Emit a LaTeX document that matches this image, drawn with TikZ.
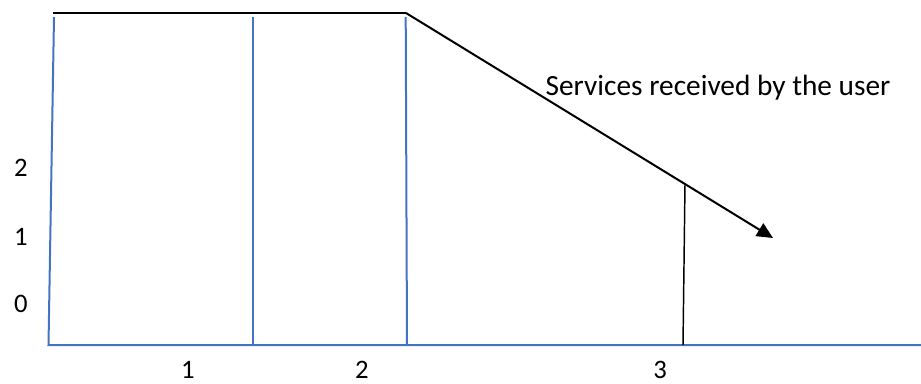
\documentclass[tikz,border=0pt]{standalone}
\usepackage{fontspec}
\setmainfont{Carlito}
\usetikzlibrary{arrows.meta}
\definecolor{axisblue}{HTML}{4472C4}
\begin{document}
\begin{tikzpicture}[x=0.75pt,y=-0.75pt,
  blueline/.style={draw=axisblue,line width=1.5pt},
  blackline/.style={draw=black,line width=1.5pt},
  thinblack/.style={draw=black,line width=1.1pt},
  lbl/.style={font=\fontsize{20pt}{24pt}\selectfont,inner sep=0pt},
  biglbl/.style={font=\fontsize{22pt}{26pt}\selectfont,inner sep=0pt}]
\useasboundingbox (0,0) rectangle (921,383);
% coordinates
\coordinate (tl) at (53,13);
\coordinate (tm) at (406,13);
\coordinate (tip) at (773,238);
\coordinate (lt) at (54,17);
\coordinate (lb) at (48.5,345);
\coordinate (re) at (921,345);
\coordinate (at) at (253,17);
\coordinate (ab) at (253,345);
\coordinate (bt) at (405.7,17);
\coordinate (bb) at (407,345);
\coordinate (ct) at (685,184);
\coordinate (cb) at (683,345);
% blue axes
\draw[blueline] (lt) -- (lb) -- (re);
\draw[blueline] (at) -- (ab);
\draw[blueline] (bt) -- (bb);
% black lines
\draw[blackline,line join=miter] (tl) -- (tm);
\draw[blackline,-{Triangle[length=12pt,width=11pt]}] (tm) -- (tip);
\draw[thinblack] (ct) -- (cb);
% labels
\node[lbl] (y2) at (21,168) {2};
\node[lbl] (y1) at (21,237) {1};
\node[lbl] (y0) at (21,304) {0};
\node[lbl] (x1) at (188,370) {1};
\node[lbl] (x2) at (362,370) {2};
\node[lbl] (x3) at (660,370) {3};
\node[biglbl] (srv) at (718,88) {Services received by the user};
\end{tikzpicture}
\end{document}
